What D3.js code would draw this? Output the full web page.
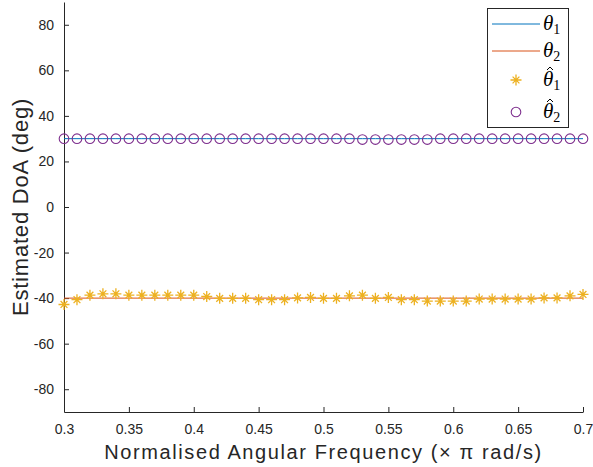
<!DOCTYPE html>
<html>
<head>
<meta charset="utf-8">
<script src="https://cdn.jsdelivr.net/npm/d3@7"></script>
<style>
  body { margin: 0; background: #fff; }
  text { font-family: "Liberation Sans", Arial, sans-serif; }
</style>
</head>
<body>
<div id="chart"></div>
<script>
// data
const freq = [0.30, 0.31, 0.32, 0.33, 0.34, 0.35, 0.36, 0.37, 0.38, 0.39, 0.40,
              0.41, 0.42, 0.43, 0.44, 0.45, 0.46, 0.47, 0.48, 0.49, 0.50,
              0.51, 0.52, 0.53, 0.54, 0.55, 0.56, 0.57, 0.58, 0.59, 0.60,
              0.61, 0.62, 0.63, 0.64, 0.65, 0.66, 0.67, 0.68, 0.69, 0.70];
const thetaTrue1 = 30;
const thetaTrue2 = -40;
const thetaHat1 = [-42.8, -40.7, -38.7, -38.1, -38.1, -38.7, -38.7, -38.7, -38.7, -38.7, -38.7,
                   -39.3, -40.1, -40.1, -40.1, -40.7, -40.7, -40.7, -39.9, -39.7, -40.1,
                   -40.1, -39.0, -38.7, -40.1, -39.7, -40.7, -40.7, -41.3, -41.3, -41.3,
                   -41.3, -40.4, -40.4, -40.4, -40.4, -40.4, -39.9, -39.9, -39.0, -38.4];
const thetaHat2 = [30, 30, 30, 30, 30, 30, 30, 30, 30, 30, 30,
                   30, 30, 30, 30, 30, 30, 30, 30, 30, 30,
                   30, 30, 29.6, 29.6, 29.6, 29.6, 29.6, 29.6, 30, 30,
                   30, 30, 30, 30, 30, 30, 30, 30, 30, 30];
const xTicks = [0.3, 0.35, 0.4, 0.45, 0.5, 0.55, 0.6, 0.65, 0.7];
const yTicks = [-80, -60, -40, -20, 0, 20, 40, 60, 80];

const W = 593, H = 467;
const blue = "#0072BD", orange = "#D95319", yellow = "#EDB120", purple = "#7E2F8E";
const axisCol = "#262626";

const svg = d3.select("#chart").append("svg")
    .attr("width", W).attr("height", H);

const x = d3.scaleLinear().domain([0.3, 0.7]).range([64, 583]);
const y = d3.scaleLinear().domain([-90, 90]).range([412, 2]);

// axes (ticks point inward, like matlab)
const gx = svg.append("g")
    .attr("transform", `translate(0,${y(-90)})`)
    .call(d3.axisBottom(x).tickValues(xTicks).tickSizeInner(-5).tickSizeOuter(0)
        .tickPadding(12).tickFormat(d => String(d)));
const gy = svg.append("g")
    .attr("transform", `translate(${x(0.3)},0)`)
    .call(d3.axisLeft(y).tickValues(yTicks).tickSizeInner(-5).tickSizeOuter(0)
        .tickPadding(10).tickFormat(d => String(d)));

[gx, gy].forEach(g => {
    g.select(".domain").attr("stroke", axisCol).attr("stroke-width", 1);
    g.selectAll(".tick line").attr("stroke", axisCol);
    g.selectAll(".tick text").attr("fill", axisCol)
        .style("font-size", "14px").style("font-family", "'Liberation Sans', Arial, sans-serif");
});

// axis labels
svg.append("text")
    .attr("x", (x(0.3) + x(0.7)) / 2).attr("y", 459)
    .attr("text-anchor", "middle").attr("fill", axisCol)
    .style("font-size", "20px").style("letter-spacing", "1.6px")
    .text("Normalised Angular Frequency (\u00d7 \u03c0 rad/s)");

svg.append("text")
    .attr("transform", `translate(28,${y(0)}) rotate(-90)`)
    .attr("text-anchor", "middle").attr("fill", axisCol)
    .style("font-size", "22px").style("letter-spacing", "0.8px")
    .text("Estimated DoA (deg)");

// true DoA lines
const line = d3.line().x(d => x(d[0])).y(d => y(d[1]));
svg.append("path")
    .datum(freq.map(f => [f, thetaTrue1]))
    .attr("d", line).attr("fill", "none").attr("stroke", blue).attr("stroke-width", 1);
svg.append("path")
    .datum(freq.map(f => [f, thetaTrue2]))
    .attr("d", line).attr("fill", "none").attr("stroke", orange).attr("stroke-width", 1);

// asterisk marker
function star(g, cx, cy, r) {
    const d = 0.62 * r;
    g.append("path")
        .attr("d", `M${cx},${cy - r}V${cy + r}M${cx - r},${cy}H${cx + r}` +
            `M${cx - d},${cy - d}L${cx + d},${cy + d}M${cx - d},${cy + d}L${cx + d},${cy - d}`)
        .attr("stroke", yellow).attr("stroke-width", 1.3).attr("fill", "none");
}

const stars = svg.append("g");
freq.forEach((f, i) => star(stars, x(f), y(thetaHat1[i]), 5.5));

svg.append("g").selectAll("circle")
    .data(freq.map((f, i) => [f, thetaHat2[i]]))
    .enter().append("circle")
    .attr("cx", d => x(d[0])).attr("cy", d => y(d[1]))
    .attr("r", 4.8).attr("fill", "none")
    .attr("stroke", purple).attr("stroke-width", 1.1);

// legend
const lg = svg.append("g");
lg.append("rect").attr("x", 487.5).attr("y", 8.5).attr("width", 81).attr("height", 119)
    .attr("fill", "#fff").attr("stroke", axisCol).attr("stroke-width", 1);

const items = [
    {type: "line", color: blue, sub: "1", hat: false, cy: 24},
    {type: "line", color: orange, sub: "2", hat: false, cy: 51},
    {type: "star", color: yellow, sub: "1", hat: true, cy: 80},
    {type: "circle", color: purple, sub: "2", hat: true, cy: 112}
];
items.forEach(it => {
    if (it.type === "line") {
        lg.append("line").attr("x1", 492).attr("x2", 540)
            .attr("y1", it.cy).attr("y2", it.cy)
            .attr("stroke", it.color).attr("stroke-width", 1);
    } else if (it.type === "star") {
        star(lg, 516, it.cy, 5.5);
    } else {
        lg.append("circle").attr("cx", 516).attr("cy", it.cy).attr("r", 4.8)
            .attr("fill", "none").attr("stroke", it.color).attr("stroke-width", 1.1);
    }
    const t = lg.append("text").attr("x", 543).attr("y", it.cy + 6)
        .style("font-family", "'Liberation Serif', 'DejaVu Serif', serif")
        .style("font-size", "21px").attr("fill", "#000");
    t.append("tspan").style("font-style", "italic").text("\u03b8");
    t.append("tspan").attr("dy", 4).style("font-size", "14px").text(it.sub);
    if (it.hat) {
        // circumflex accent drawn as a small path
        const hx = 550, hy = it.cy - 12;
        lg.append("path")
            .attr("d", `M${hx - 3},${hy + 2}L${hx},${hy - 1}L${hx + 3},${hy + 2}`)
            .attr("fill", "none").attr("stroke", "#000").attr("stroke-width", 1);
    }
});
</script>
</body>
</html>
